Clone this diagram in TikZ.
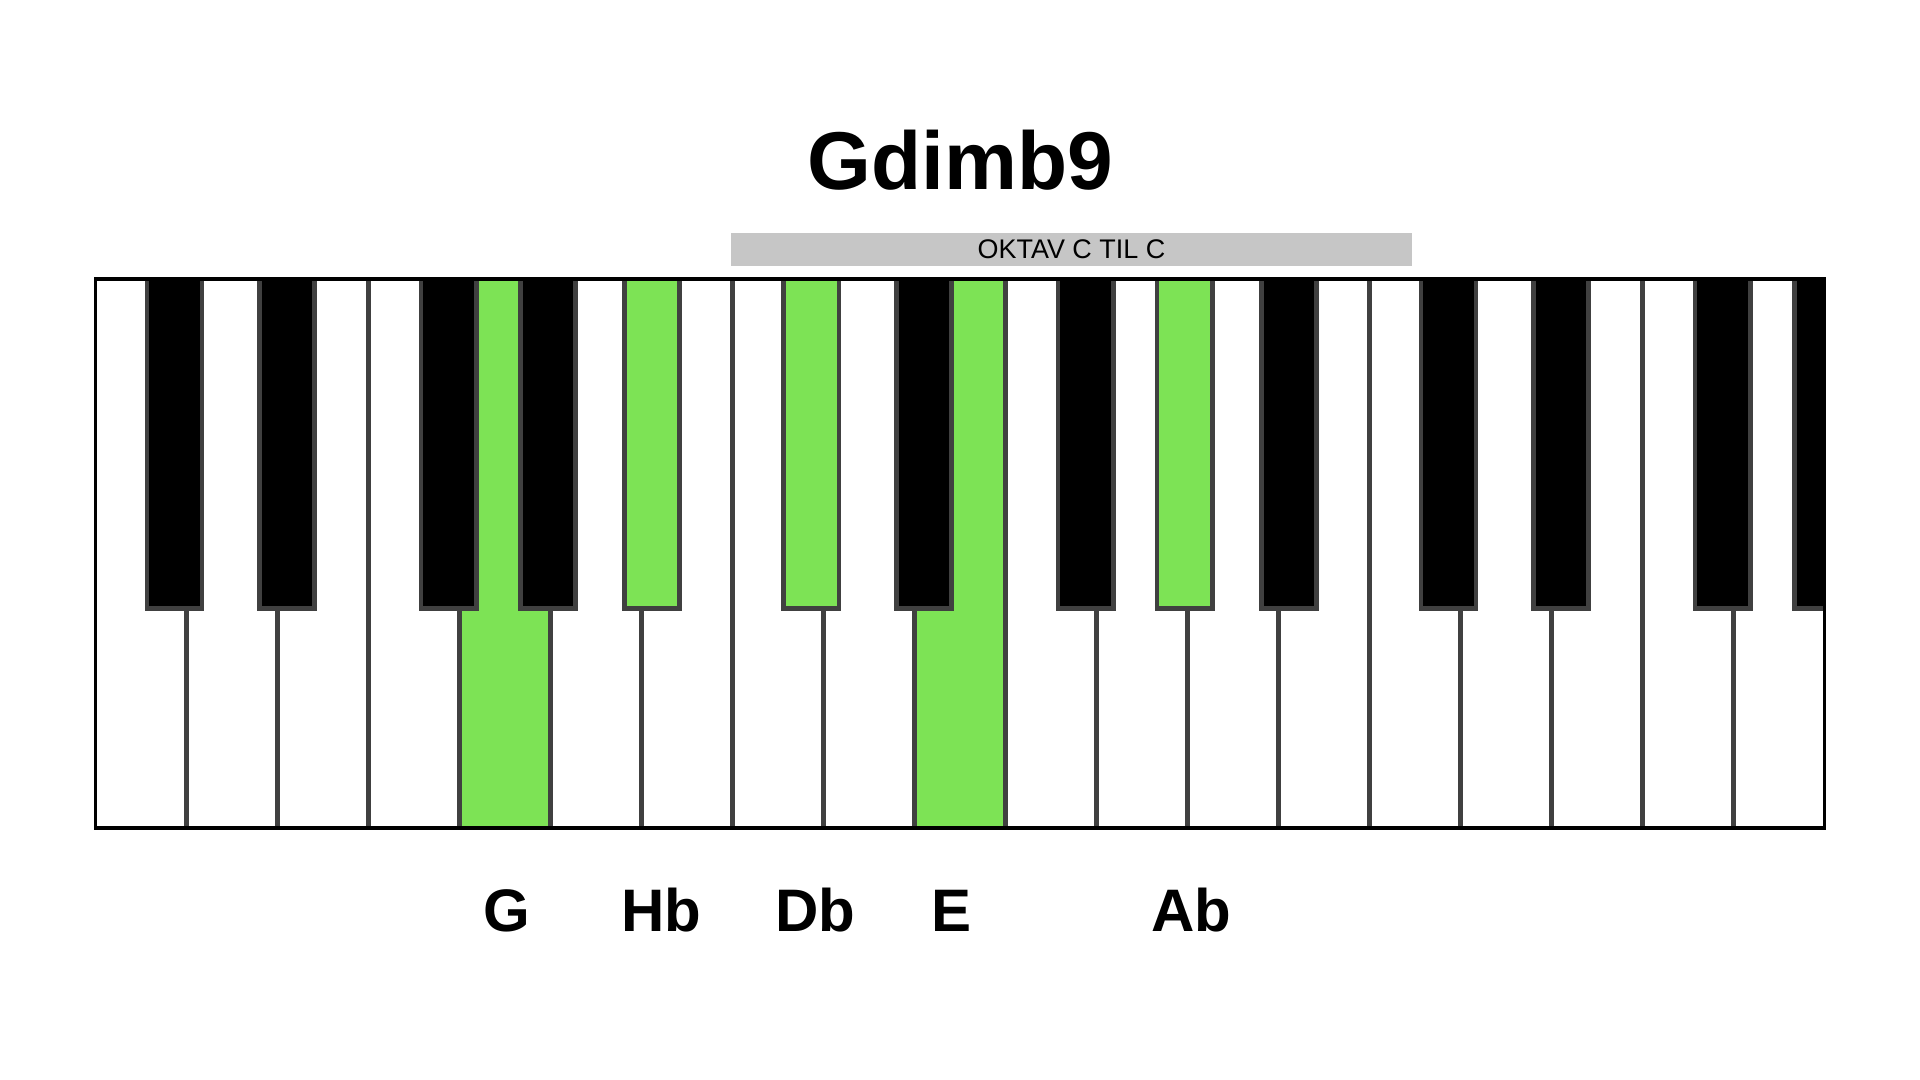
\documentclass[tikz,border=0pt]{standalone}
\usepackage{fontspec}
\setmainfont{Liberation Sans}

\definecolor{keygreen}{RGB}{125,227,85}
\definecolor{keyedge}{RGB}{64,64,64}
\definecolor{barfill}{RGB}{198,198,198}

\tikzset{
	divider/.style={draw=keyedge, line width=1.7pt},
	blackkey/.style={fill=black, draw=keyedge, line width=1.8pt},
	greenkey/.style={fill=keygreen, draw=keyedge, line width=1.8pt},
	notelabel/.style={anchor=base, font=\bfseries\fontsize{24.5}{30}\selectfont, inner sep=0pt}
}

\begin{document}
\begin{tikzpicture}[x=0.5pt, y=-0.5pt]
		\useasboundingbox (0,0) rectangle (1568,882);
		\fill[white] (0,0) rectangle (1568,882);

		% title and octave bar
		\node (title) [notelabel, font=\bfseries\fontsize{33.5}{40}\selectfont] at (784,155) {Gdimb9};
		\node (octave) [fill=barfill, minimum width=278pt, minimum height=13.5pt, inner sep=0pt,
			font=\fontsize{11}{13}\selectfont] at (875,203.5) {OKTAV C TIL C};

		% keyboard
		\coordinate (kbd-nw) at (78,228);
		\coordinate (kbd-se) at (1490,676);
		\begin{scope}
			\clip (kbd-nw) rectangle (kbd-se);
			\foreach \i in {0,...,18}
				\fill[white] ({78+74.316*\i},228) rectangle ++(74.316,448);
			\foreach \i in {4,9}
				\fill[keygreen] ({78+74.316*\i},228) rectangle ++(74.316,448);
			\foreach \i in {1,...,18}
				\draw[divider] ({78+74.316*\i},228) -- ++(0,448);
			\foreach \o in {0,1,2}
				\foreach \d in {42,134,266,347,432}
					\draw[blackkey] ({78+520.2*\o+\d},224) rectangle ++(45,273);
			% Hb, Db, Ab
			\foreach \x in {510,640,945}
				\draw[greenkey] (\x,224) rectangle ++(45,273);
		\end{scope}
		\draw[line width=1.5pt] (kbd-nw) rectangle (kbd-se);

		% note names
		\foreach \name/\x in {G/414, Hb/540, Db/666, E/777, Ab/973}
			\node (lbl-\name) [notelabel] at (\x,761) {\name};
\end{tikzpicture}
\end{document}
